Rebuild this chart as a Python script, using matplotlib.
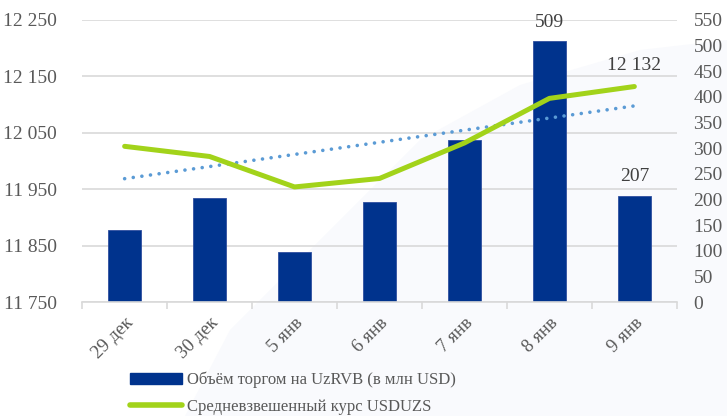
import matplotlib
matplotlib.use('Agg')
import matplotlib.pyplot as plt
from matplotlib.patches import Patch, Polygon
from matplotlib.lines import Line2D
import numpy as np

# data
days = ['29 дек', '30 дек', '5 янв', '6 янв', '7 янв', '8 янв', '9 янв']
volume = [140, 203, 97, 195, 316, 509, 207]              # млн USD, right axis
rate = [12026, 12008, 11954, 11969, 12032, 12111, 12132]  # USDUZS, left axis

BAR = '#00338d'
GREEN = '#a2d31a'
TREND = '#5b9bd5'
GRID = '#d9d9d9'
TICK = '#595959'
SERIF = ['Liberation Serif', 'DejaVu Serif']

def fmt(v):
    return f'{v:,.0f}'.replace(',', ' ')

W, H = 727, 416
fig = plt.figure(figsize=(7.27, 4.16), dpi=100)
fig.patch.set_facecolor('white')

# faint background swoosh
pts = [(185, 416), (230, 330), (330, 230), (420, 140), (520, 85), (640, 50),
       (727, 40), (727, 416)]
bg = Polygon([(px / W, 1 - py / H) for px, py in pts], closed=True,
             transform=fig.transFigure, facecolor='#f9fafd', edgecolor='none', zorder=-5)
fig.patches.append(bg)

ax = fig.add_axes([0.113, 0.274, 0.818, 0.678])
ax.patch.set_visible(False)
x = np.arange(len(days))

# gridlines follow the left-axis ticks
left_ticks = np.arange(11750, 12251, 100)
for v in left_ticks:
    ax.axhline((v - 11750) / 500 * 550, color=GRID, lw=1.2, zorder=0)

ax.bar(x, volume, width=0.39, color=BAR, edgecolor='#2f4f9f', linewidth=0.6, zorder=2)
ax.set_ylim(0, 550)
ax.set_xlim(-0.5, len(days) - 0.5)

ax.set_xticks(x)
ax.set_xticklabels(days, rotation=45, ha='right', rotation_mode='anchor',
                   family=SERIF, fontsize=13.5, color=TICK)
ax.tick_params(axis='x', length=0, pad=9)
ax.set_xticks(np.arange(-0.5, len(days)), minor=True)
ax.tick_params(axis='x', which='minor', length=5, color=GRID, width=1.2)
for s in ['top', 'left', 'right']:
    ax.spines[s].set_visible(False)
ax.spines['bottom'].set_color(GRID)
ax.spines['bottom'].set_linewidth(1.2)

ax.text(x[5], volume[5] + 20, fmt(volume[5]), ha='center', va='bottom',
        family=SERIF, fontsize=14, color='#404040')
ax.text(x[6], volume[6] + 22, fmt(volume[6]), ha='center', va='bottom',
        family=SERIF, fontsize=14, color='#404040')

# rate line on the left axis
axl = ax.twinx()
axl.patch.set_visible(False)
axl.set_ylim(11750, 12250)
for s in axl.spines.values():
    s.set_visible(False)

coef = np.polyfit(x, rate, 1)
axl.plot(x, np.polyval(coef, x), color=TREND, lw=2.6, linestyle=(0, (0.01, 2.4)),
         dash_capstyle='round', zorder=3)
axl.plot(x, rate, color=GREEN, lw=3.6, solid_capstyle='round', solid_joinstyle='round', zorder=4)
axl.text(x[6], rate[6] + 22, fmt(rate[6]), ha='center', va='bottom',
         family=SERIF, fontsize=14, color='#404040')

# tick sides (twinx moves the original ticks, so set them afterwards)
ax.yaxis.tick_right()
ax.set_yticks(np.arange(0, 551, 50))
ax.set_yticklabels([str(v) for v in range(0, 551, 50)], family=SERIF, fontsize=14, color=TICK)
ax.tick_params(axis='y', length=0, pad=12)

axl.yaxis.tick_left()
axl.set_yticks(left_ticks)
axl.set_yticklabels([fmt(v) for v in left_ticks], family=SERIF, fontsize=14, color=TICK)
axl.tick_params(axis='y', length=0, pad=18)

handles = [Patch(facecolor=BAR, edgecolor=BAR),
           Line2D([0], [0], color=GREEN, lw=4, solid_capstyle='round')]
labels = ['Объём торгом на UzRVB (в млн USD)', 'Средневзвешенный курс USDUZS']
fig.legend(handles, labels, loc='lower left', bbox_to_anchor=(0.158, -0.033),
           frameon=False, prop={'family': SERIF, 'size': 12},
           handlelength=3.1, handleheight=0.6, handletextpad=0.35,
           labelspacing=0.62, labelcolor=TICK)

fig.savefig('out.png', dpi=100, facecolor='white')
